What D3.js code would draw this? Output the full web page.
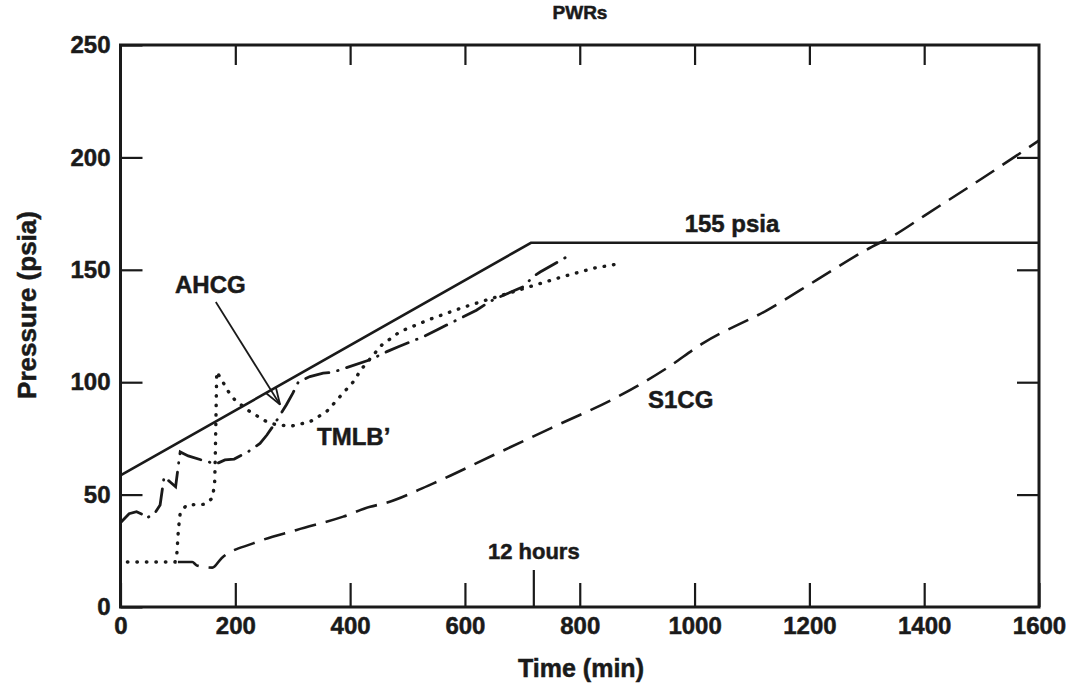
<!DOCTYPE html>
<html>
<head>
<meta charset="utf-8">
<script src="https://cdn.jsdelivr.net/npm/d3@7"></script>
<style>
  body { margin: 0; background: #fff; }
  svg text { font-family: "Liberation Sans", Arial, sans-serif; font-weight: bold; fill: #1a1a1a; stroke: #1a1a1a; stroke-width: 0.5px; }
</style>
</head>
<body>
<svg id="chart" width="1082" height="688"></svg>
<script>
// values (time in min, pressure in psia)
const xTicks = [0, 200, 400, 600, 800, 1000, 1200, 1400, 1600];
const yTicks = [0, 50, 100, 150, 200, 250];

// containment limit line, rising then flat at "155 psia"
const limitLine = [[0, 58.5], [715, 162], [1600, 162]];

// S1CG dashed curve
const s1cg = [[100, 20], [125, 20], [133, 18.5], [160, 17.5], [176, 21.7], [231, 28.3],
  [307, 34.3], [388, 40.2], [435, 44.6], [458, 46], [545, 55], [650, 67.6], [750, 79.6],
  [865, 93.4], [950, 106], [1015, 117.4], [1126, 132], [1213, 145.5], [1300, 159],
  [1352, 166], [1400, 174], [1500, 190.5], [1600, 207.5]];

// AHCG dash-dot curve
const ahcg = [[2, 38], [15, 41.5], [28, 42.4], [40, 41], [45, 39.5], [59, 41.4], [69, 45.4],
  [76, 58], [86, 55.7], [96, 53.5], [102, 65.4], [104, 69], [118, 67.2], [140, 65.5],
  [166, 63.6], [182, 65.4], [198, 65.8], [222, 69], [243, 72.8], [255, 76.5], [269, 81.7],
  [289, 90], [300, 95], [310, 100.2], [330, 102.5], [353, 104], [370, 104.4], [388, 106],
  [435, 110], [464, 113.6], [484, 115.8], [530, 120.5], [551, 123.2], [568, 125.4],
  [620, 132], [638, 135], [652, 137], [702, 142.5], [719, 147], [731, 149], [786, 157]];

// TMLB' dotted curve
const tmlb = [[12, 20], [50, 20], [95, 20], [98, 23], [101, 35], [104, 41.7], [115, 45.4],
  [147, 45.7], [160, 48.4], [164, 55], [165, 65.4], [166.4, 86], [167.6, 104.7], [179, 99.8],
  [188, 95.8], [199.5, 92], [225.6, 86.9], [254.7, 82.4], [272, 81], [298, 80.5], [330, 82.4],
  [359, 86.9], [382, 93.5], [408.5, 101], [417, 105], [455, 116.5], [487, 122.5], [539, 128],
  [597, 133.3], [638, 136.6], [713, 142.5], [771, 147], [824, 150.7], [867, 152.6]];

const svg = d3.select("#chart");

const x = d3.scaleLinear().domain([0, 1600]).range([120.5, 1039]);
const y = d3.scaleLinear().domain([0, 250]).range([607, 45]);

// axes with inward ticks
svg.append("g")
  .attr("transform", `translate(0,${y(0)})`)
  .call(d3.axisBottom(x).tickValues(xTicks).tickFormat(d3.format("d"))
    .tickSizeInner(-24).tickSizeOuter(0).tickPadding(10));

svg.append("g")
  .attr("transform", `translate(${x(0)},0)`)
  .call(d3.axisLeft(y).tickValues(yTicks).tickFormat(d3.format("d"))
    .tickSizeInner(-22).tickSizeOuter(0).tickPadding(10));

svg.append("g")
  .attr("transform", `translate(0,${y(250)})`)
  .call(d3.axisTop(x).tickValues(xTicks.slice(1, -1)).tickSizeInner(-20).tickSizeOuter(0).tickFormat(""));

svg.append("g")
  .attr("transform", `translate(${x(1600)},0)`)
  .call(d3.axisRight(y).tickValues(yTicks.slice(1, -1)).tickSizeInner(-22).tickSizeOuter(0).tickFormat(""));

svg.selectAll(".domain").remove();
svg.selectAll(".tick line").attr("stroke", "#1a1a1a").attr("stroke-width", 2.2);
svg.selectAll(".tick text")
  .attr("font-size", "24px")
  .attr("font-family", "Liberation Sans, Arial, sans-serif")
  .attr("font-weight", "bold")
  .attr("fill", "#1a1a1a");

// frame
svg.append("rect")
  .attr("x", x(0))
  .attr("y", y(250))
  .attr("width", x(1600) - x(0))
  .attr("height", y(0) - y(250))
  .attr("fill", "none")
  .attr("stroke", "#1a1a1a")
  .attr("stroke-width", 3);

// 12 hours marker
svg.append("line")
  .attr("x1", x(720)).attr("x2", x(720))
  .attr("y1", y(0)).attr("y2", y(0) - 37)
  .attr("stroke", "#1a1a1a")
  .attr("stroke-width", 2.2);

svg.append("text")
  .attr("x", x(720))
  .attr("y", y(0) - 48)
  .attr("text-anchor", "middle")
  .attr("font-size", "22px")
  .text("12 hours");

// curves
const line = d3.line()
  .x(d => x(d[0]))
  .y(d => y(d[1]));

svg.append("path")
  .attr("d", line(limitLine))
  .attr("fill", "none")
  .attr("stroke", "#1a1a1a")
  .attr("stroke-width", 2.6);

svg.append("path")
  .attr("d", line.curve(d3.curveMonotoneX)(s1cg))
  .attr("fill", "none")
  .attr("stroke", "#1a1a1a")
  .attr("stroke-width", 2.6)
  .attr("stroke-dasharray", "22,10");

line.curve(d3.curveLinear);

svg.append("path")
  .attr("d", line(ahcg))
  .attr("fill", "none")
  .attr("stroke", "#1a1a1a")
  .attr("stroke-width", 2.8)
  .attr("stroke-linecap", "round")
  .attr("stroke-dasharray", "24,9,0.5,9");

svg.append("path")
  .attr("d", line(tmlb))
  .attr("fill", "none")
  .attr("stroke", "#1a1a1a")
  .attr("stroke-width", 3.4)
  .attr("stroke-linecap", "round")
  .attr("stroke-dasharray", "0.5,9");

// AHCG arrow
const arrowFrom = [166, 135.7];
const arrowTo = [278, 90];
const ax1 = x(arrowFrom[0]), ay1 = y(arrowFrom[1]);
const ax2 = x(arrowTo[0]), ay2 = y(arrowTo[1]);
const ang = Math.atan2(ay2 - ay1, ax2 - ax1);
svg.append("line")
  .attr("x1", ax1).attr("y1", ay1)
  .attr("x2", ax2).attr("y2", ay2)
  .attr("stroke", "#1a1a1a")
  .attr("stroke-width", 1.8);
[-0.32, 0.32].forEach(a => {
  svg.append("line")
    .attr("x1", ax2).attr("y1", ay2)
    .attr("x2", ax2 - 18 * Math.cos(ang + a))
    .attr("y2", ay2 - 18 * Math.sin(ang + a))
    .attr("stroke", "#1a1a1a")
    .attr("stroke-width", 1.8);
});

// labels
svg.append("text")
  .attr("x", 175).attr("y", 293)
  .attr("font-size", "24px")
  .text("AHCG");

svg.append("text")
  .attr("x", 317).attr("y", 445)
  .attr("font-size", "24px")
  .text("TMLB’");

svg.append("text")
  .attr("x", 648).attr("y", 408)
  .attr("font-size", "24px")
  .text("S1CG");

svg.append("text")
  .attr("x", 732).attr("y", 232)
  .attr("text-anchor", "middle")
  .attr("font-size", "24px")
  .text("155 psia");

svg.append("text")
  .attr("x", 580).attr("y", 19)
  .attr("text-anchor", "middle")
  .attr("font-size", "19px")
  .text("PWRs");

svg.append("text")
  .attr("x", 581).attr("y", 677)
  .attr("text-anchor", "middle")
  .attr("font-size", "25px")
  .text("Time (min)");

svg.append("text")
  .attr("transform", "translate(36,305) rotate(-90)")
  .attr("text-anchor", "middle")
  .attr("font-size", "26px")
  .text("Pressure (psia)");
</script>
</body>
</html>
